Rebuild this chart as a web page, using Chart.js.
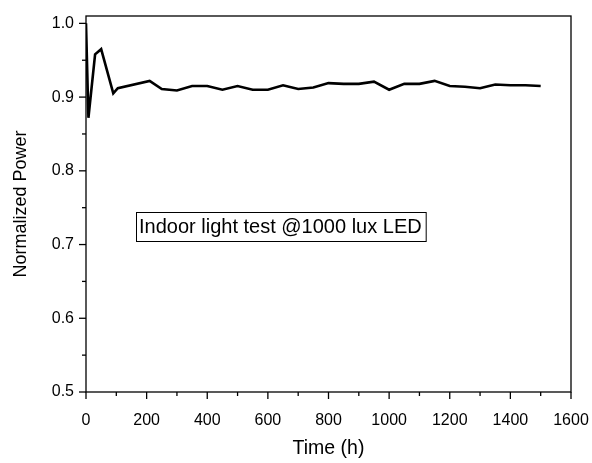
<!DOCTYPE html>
<html>
<head>
<meta charset="utf-8">
<script src="https://cdn.jsdelivr.net/npm/chart.js@4.4.7/dist/chart.umd.min.js"></script>
<style>
  html, body { margin: 0; padding: 0; background: #fff; }
  #wrap { width: 592px; height: 463px; position: relative; }
</style>
</head>
<body>
<div id="wrap"><canvas id="chart"></canvas></div>
<script>
// values
const timeHours = [0, 8, 30, 50, 90, 105, 210, 250, 300, 350, 400, 450, 500, 550, 600, 650, 700, 750, 800, 850, 900, 950, 1000, 1050, 1100, 1150, 1200, 1250, 1300, 1350, 1400, 1450, 1500];
const normPower = [1.0, 0.872, 0.958, 0.965, 0.905, 0.912, 0.922, 0.911, 0.909, 0.915, 0.915, 0.910, 0.915, 0.910, 0.910, 0.916, 0.911, 0.913, 0.919, 0.918, 0.918, 0.921, 0.910, 0.918, 0.918, 0.922, 0.915, 0.914, 0.912, 0.917, 0.916, 0.916, 0.915];
const xTitle = "Time (h)";
const yTitle = "Normalized Power";
const noteText = "Indoor light test @1000 lux LED";

const FONT = "'Liberation Sans', Arial, sans-serif";

// frame, major/minor tick marks and the boxed note
const frameTicks = {
  id: "frameTicks",
  afterDraw(chart) {
    const { ctx, chartArea: a, scales } = chart;
    ctx.save();
    ctx.strokeStyle = "#000";
    ctx.lineWidth = 1.3;
    ctx.strokeRect(a.left, a.top, a.right - a.left, a.bottom - a.top);

    scales.x.ticks.forEach((t) => {
      const px = scales.x.getPixelForValue(t.value);
      const major = Math.round(t.value) % 200 === 0;
      ctx.beginPath();
      ctx.moveTo(px, a.bottom);
      ctx.lineTo(px, a.bottom + (major ? 7 : 4));
      ctx.stroke();
    });
    scales.y.ticks.forEach((t) => {
      const py = scales.y.getPixelForValue(t.value);
      const major = Math.round(t.value * 100) % 10 === 0;
      ctx.beginPath();
      ctx.moveTo(a.left, py);
      ctx.lineTo(a.left - (major ? 7 : 4), py);
      ctx.stroke();
    });

    // note box
    ctx.font = "20px " + FONT;
    const w = ctx.measureText(noteText).width;
    const bx = 136, by = 212;
    ctx.lineWidth = 1;
    ctx.strokeRect(bx + 0.5, by + 0.5, w + 7, 29);
    ctx.fillStyle = "#000";
    ctx.textBaseline = "alphabetic";
    ctx.fillText(noteText, bx + 3, by + 21);
    ctx.restore();
  },
};

new Chart(document.getElementById("chart"), {
  type: "line",
  data: {
    datasets: [{
      data: timeHours.map((t, i) => ({ x: t, y: normPower[i] })),
      borderColor: "#000",
      borderWidth: 2.6,
      pointRadius: 0,
      tension: 0,
      fill: false,
    }],
  },
  options: {
    responsive: true,
    maintainAspectRatio: false,
    animation: false,
    layout: { padding: { top: 16, right: 21, left: 0, bottom: 0 } },
    plugins: { legend: { display: false }, tooltip: { enabled: false } },
    scales: {
      x: {
        type: "linear",
        min: 0,
        max: 1600,
        grid: { display: false, drawTicks: false },
        border: { display: false },
        afterFit: (s) => { s.height = 71; s.paddingLeft = 0; s.paddingRight = 0; },
        ticks: {
          stepSize: 100,
          includeBounds: false,
          autoSkip: false,
          maxRotation: 0,
          padding: 19,
          color: "#000",
          font: { family: FONT, size: 16 },
          callback: (v) => (Math.round(v) % 200 === 0 ? String(v) : ""),
        },
        title: {
          display: true,
          text: xTitle,
          color: "#000",
          font: { family: FONT, size: 19.5 },
          padding: { top: 0, bottom: 3 },
        },
      },
      y: {
        type: "linear",
        min: 0.5,
        max: 1.01,
        grid: { display: false, drawTicks: false },
        border: { display: false },
        afterFit: (s) => { s.width = 86; s.paddingTop = 0; s.paddingBottom = 0; },
        ticks: {
          stepSize: 0.05,
          includeBounds: false,
          autoSkip: false,
          padding: 12,
          color: "#000",
          font: { family: FONT, size: 16 },
          callback: (v) => (Math.round(v * 100) % 10 === 0 ? v.toFixed(1) : ""),
        },
        title: {
          display: true,
          text: yTitle,
          color: "#000",
          font: { family: FONT, size: 18 },
          padding: { top: 10, bottom: 0 },
        },
      },
    },
  },
  plugins: [frameTicks],
});
</script>
</body>
</html>
